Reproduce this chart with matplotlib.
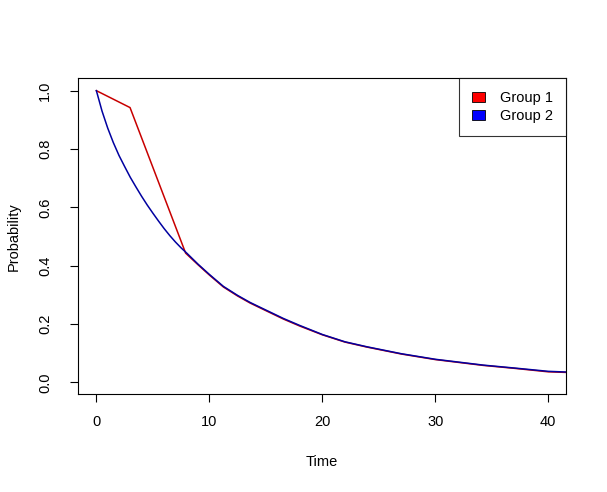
import matplotlib.pyplot as plt
from matplotlib.patches import Patch

plt.rcParams['font.family'] = ['Liberation Sans', 'DejaVu Sans']

# survival probabilities
t_blue = [0, 0.5, 1, 1.5, 2, 2.5, 3, 3.5, 4, 4.5, 5, 5.5, 6, 6.5, 7, 7.5, 8,
          9, 10, 11.24, 12.5, 13.6, 14.4, 16.55, 18, 20, 22, 23.93, 27, 30,
          34.25, 37, 40, 41.6]
p_blue = [1.0, 0.93, 0.872, 0.822, 0.778, 0.74, 0.703, 0.67, 0.638, 0.608,
          0.58, 0.553, 0.527, 0.503, 0.481, 0.461, 0.443, 0.405, 0.37, 0.329,
          0.298, 0.274, 0.259, 0.219, 0.195, 0.164, 0.139, 0.122, 0.098,
          0.079, 0.059, 0.049, 0.0377, 0.0353]

t_red = [0, 2.98, 7.9, 9, 10, 11.24, 12.5, 13.6, 14.4, 16.55, 18, 20, 22,
         23.93, 27, 30, 34.25, 37, 40, 41.6]
p_red = [1.0, 0.942, 0.443, 0.403, 0.368, 0.327, 0.296, 0.272, 0.257, 0.217,
         0.193, 0.163, 0.138, 0.121, 0.097, 0.078, 0.058, 0.048, 0.036, 0.034]

groups = ['Group 1', 'Group 2']

fig = plt.figure(figsize=(6.07, 4.92), dpi=100)
ax = fig.add_axes([0.129, 0.1992, 0.8035, 0.6417])

ax.plot(t_red, p_red, color='#C80000', lw=1.1)
ax.plot(t_blue, p_blue, color='#0000A0', lw=1.1)

ax.set_xlim(-1.6, 41.57)
ax.set_ylim(-0.04, 1.0425)
ax.set_xticks([0, 10, 20, 30, 40])
ax.set_yticks([0.0, 0.2, 0.4, 0.6, 0.8, 1.0])
ax.set_yticklabels(['0.0', '0.2', '0.4', '0.6', '0.8', '1.0'], rotation=90, va='center')
ax.tick_params(length=6, width=0.8, labelsize=10.5)
ax.tick_params(axis='x', pad=9)
ax.tick_params(axis='y', pad=13)
for s in ax.spines.values():
    s.set_linewidth(0.8)

ax.set_xlabel('Time', fontsize=10.5, labelpad=19)
ax.set_ylabel('Probability', fontsize=10.5, labelpad=12)

handles = [Patch(facecolor='#FF0000', edgecolor='black', lw=0.6),
           Patch(facecolor='#0000FF', edgecolor='black', lw=0.6)]
leg = ax.legend(handles, groups, loc='upper right', fontsize=10.5,
                frameon=True, fancybox=False, borderaxespad=0,
                handlelength=0.9, handleheight=0.7, handletextpad=1.0,
                borderpad=0.9, labelspacing=0.25)
leg.get_frame().set_edgecolor('black')
leg.get_frame().set_linewidth(0.8)

plt.savefig('out.png', dpi=100)
